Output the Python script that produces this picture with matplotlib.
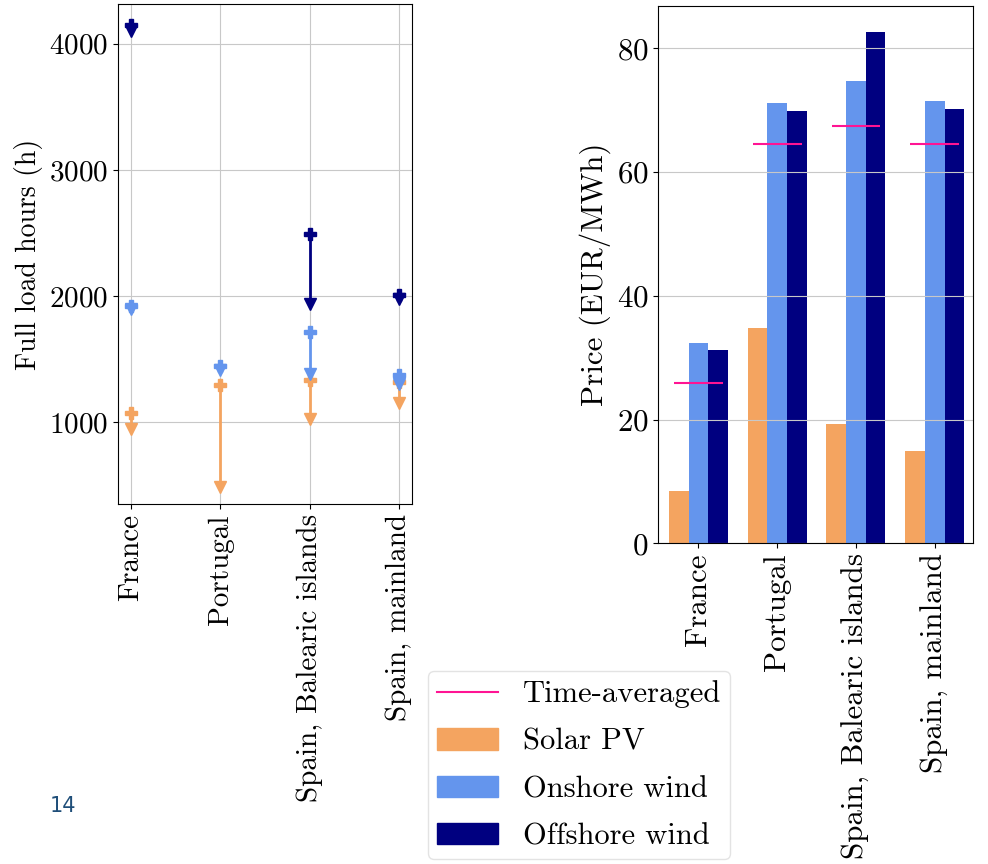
import numpy as np
import matplotlib.pyplot as plt
from matplotlib.patches import Patch
from matplotlib.lines import Line2D

plt.rcParams['font.family'] = 'cmr10'
plt.rcParams['axes.formatter.use_mathtext'] = True
plt.rcParams['font.size'] = 21
plt.rcParams['grid.color'] = '#c8c8c8'

regions = ["France", "Portugal", "Spain, Balearic islands", "Spain, mainland"]
techs = ["Solar PV", "Onshore wind", "Offshore wind"]
colors = ["sandybrown", "cornflowerblue", "navy"]

# full load hours, min and max per region
flh_max = {
    "Solar PV": [1070, 1295, 1335, 1320],
    "Onshore wind": [1925, 1445, 1715, 1375],
    "Offshore wind": [4148, np.nan, 2495, 2005],
}
flh_min = {
    "Solar PV": [945, 485, 1025, 1155],
    "Onshore wind": [1900, 1415, 1385, 1305],
    "Offshore wind": [4102, np.nan, 1935, 1975],
}

# market value prices (EUR/MWh)
price = {
    "Solar PV": [8.5, 34.8, 19.3, 14.9],
    "Onshore wind": [32.3, 71.2, 74.7, 71.5],
    "Offshore wind": [31.3, 69.9, 82.7, 70.2],
}
time_averaged = [25.9, 64.6, 67.4, 64.6]

fig = plt.figure(figsize=(9.88, 8.64), dpi=100)

# left: full load hours ranges
ax1 = fig.add_axes([0.1191, 0.4163, 0.2982, 0.5787])
x = np.arange(len(regions))
for tech, c in zip(techs, colors):
    hi = np.array(flh_max[tech], dtype=float)
    lo = np.array(flh_min[tech], dtype=float)
    ok = ~np.isnan(hi)
    ax1.vlines(x[ok], lo[ok], hi[ok], color=c, lw=2)
    ax1.plot(x[ok], hi[ok], 'P', color=c, ms=8, ls='none')
    ax1.plot(x[ok], lo[ok], 'v', color=c, ms=8, ls='none')
ax1.set_xticks(x)
ax1.set_xticklabels(regions, rotation=90)
ax1.set_yticks([1000, 2000, 3000, 4000])
ax1.set_ylim(350, 4312)
ax1.set_ylabel("Full load hours (h)", fontsize=20)
ax1.grid(True)

# right: prices
ax2 = fig.add_axes([0.6663, 0.3712, 0.3188, 0.6219])
w = 0.25
for i, (tech, c) in enumerate(zip(techs, colors)):
    ax2.bar(x + (i - 1) * w, price[tech], width=w, color=c)
ax2.hlines(time_averaged, x - 0.31, x + 0.31, color='deeppink', lw=1.5)
ax2.set_xticks(x)
ax2.set_xticklabels(regions, rotation=90, fontsize=22.3)
ax2.set_yticks([0, 20, 40, 60, 80])
ax2.tick_params(axis='y', labelsize=22.3)
ax2.set_xlim(-0.51, 3.49)
ax2.set_ylabel("Price (EUR/MWh)", fontsize=22.3)
ax2.yaxis.grid(True)

handles = [Line2D([], [], color='deeppink', lw=1.5)] + [Patch(color=c) for c in colors]
leg = fig.legend(handles, ["Time-averaged"] + techs, loc='upper left',
                 bbox_to_anchor=(0.433, 0.223), borderaxespad=0, fontsize=22,
                 handlelength=2.0, labelspacing=0.65, borderpad=0.3)
leg.get_frame().set_edgecolor('#dddddd')

fig.text(0.05, 0.06, "14", family='DejaVu Sans', fontsize=15, color='#1f4e79')

fig.savefig("out.png", dpi=100)
